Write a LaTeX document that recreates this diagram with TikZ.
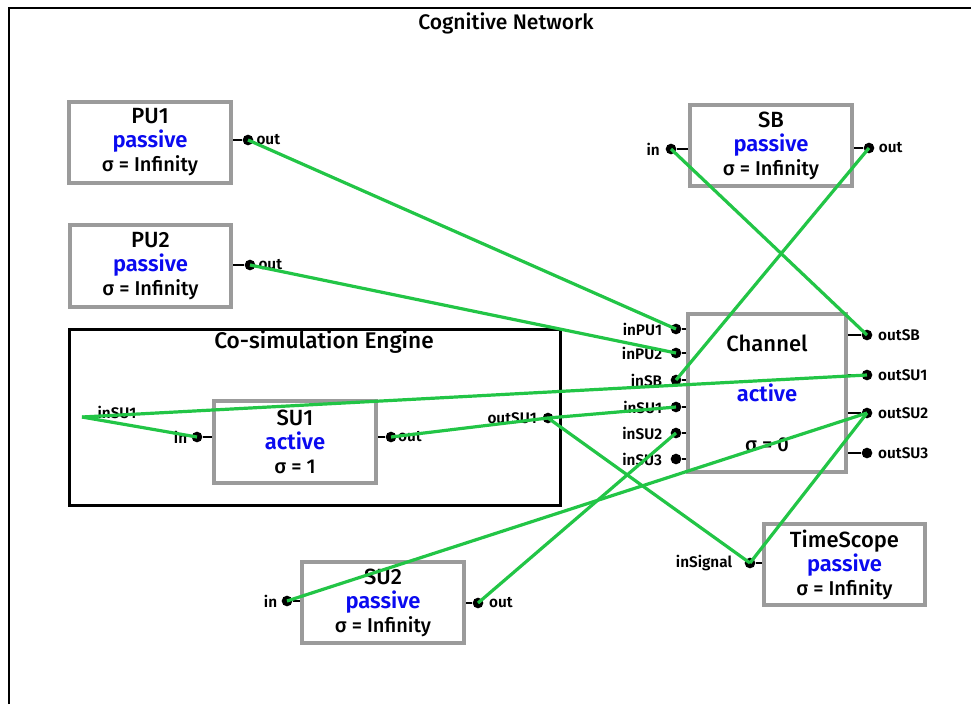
\documentclass[tikz,border=0pt]{standalone}
\usepackage{fontspec}
\setmainfont{Fira Sans Medium}[BoldFont={Fira Sans SemiBold}]
\usepackage{tikz}
\usetikzlibrary{positioning}
\definecolor{wiregreen}{RGB}{34,197,70}
\definecolor{boxgray}{RGB}{155,155,155}
\definecolor{stateblue}{RGB}{10,10,240}

\begin{document}
\begin{tikzpicture}[x=0.75pt, y=-0.75pt,
  block/.style={draw=boxgray, line width=3pt, fill=white, minimum width=121pt, minimum height=61pt, inner sep=0pt, align=center, font=\fontsize{16.5}{18}\selectfont},
  chan/.style={block, minimum width=118.5pt, minimum height=118.5pt},
  engine/.style={draw, line width=2.2pt, minimum width=368pt, minimum height=132pt},
  port/.style={circle, fill=black, inner sep=0pt, minimum size=8pt},
  plbl/.style={inner sep=1pt, font=\bfseries\fontsize{11.5}{12}\selectfont},
  stub/.style={line width=1.3pt},
  wire/.style={wiregreen, line width=2.4pt}
]
\useasboundingbox (0,0) rectangle (971,704);
\draw[line width=1.6pt] (9,704) -- (9,8) -- (971,8);
\node[font=\fontsize{15.8}{17}\selectfont] (title) at (506,23) {Cognitive Network};

\node[engine] (eng) at (315,417.5) {};
\node[font=\fontsize{17}{19}\selectfont] (engt) at (324,342) {Co-simulation Engine};

\node[block] (pu1) at (150,142.5) {PU1\\\textcolor{stateblue}{\bfseries passive}\\{\fontsize{15}{17}\selectfont σ = Infinity}};
\node[block] (pu2) at (150.5,266) {PU2\\\textcolor{stateblue}{\bfseries passive}\\{\fontsize{15}{17}\selectfont σ = Infinity}};
\node[block] (sb) at (771,145.5) {SB\\\textcolor{stateblue}{\bfseries passive}\\{\fontsize{15}{17}\selectfont σ = Infinity}};
\node[block] (su1) at (295,442) {SU1\\\textcolor{stateblue}{\bfseries active}\\{\fontsize{15}{17}\selectfont σ = 1}};
\node[block] (su2) at (383,602.5) {SU2\\\textcolor{stateblue}{\bfseries passive}\\{\fontsize{15}{17}\selectfont σ = Infinity}};
\node[block] (ts) at (844.5,564.5) {TimeScope\\\textcolor{stateblue}{\bfseries passive}\\{\fontsize{15}{17}\selectfont σ = Infinity}};
\node[chan] (ch) at (767,393) {Channel\\[20pt]\textcolor{stateblue}{\bfseries active}\\[19pt]{\fontsize{15}{17}\selectfont σ = 0}};

\node[port] (pu1o) at (248,140) {};
\node[plbl, right=1pt of pu1o] (pu1ol) {out};
\draw[stub] (pu1o) -- (pu1o -| pu1.east);
\node[port] (pu2o) at (250,265) {};
\node[plbl, right=1pt of pu2o] (pu2ol) {out};
\draw[stub] (pu2o) -- (pu2o -| pu2.east);
\node[port] (sbi) at (671,149) {};
\node[plbl, left=3pt of sbi] (sbil) {in};
\draw[stub] (sbi) -- (sbi -| sb.west);
\node[port] (sbo) at (869,148) {};
\node[plbl, right=2pt of sbo] (sbol) {out};
\draw[stub] (sbo) -- (sbo -| sb.east);
\node[port] (su1i) at (197,437) {};
\node[plbl, left=2pt of su1i] (su1il) {in};
\draw[stub] (su1i) -- (su1i -| su1.west);
\node[port] (su1o) at (391,437) {};
\node[plbl, right=0pt of su1o] (su1ol) {out};
\draw[stub] (su1o) -- (su1o -| su1.east);
\node[port] (su2i) at (287,601) {};
\node[plbl, left=2pt of su2i] (su2il) {in};
\draw[stub] (su2i) -- (su2i -| su2.west);
\node[port] (su2o) at (478,603) {};
\node[plbl, right=3pt of su2o] (su2ol) {out};
\draw[stub] (su2o) -- (su2o -| su2.east);
\node[port] (tsi) at (750,563) {};
\node[plbl, left=8pt of tsi] (tsil) {inSignal};
\draw[stub] (tsi) -- (tsi -| ts.west);

\coordinate (einsu1) at (82,417);
\node[plbl] (einsu1l) at (117,412) {inSU1};
\node[port] (eoutsu1) at (548,418) {};
\node[plbl, left=3pt of eoutsu1] (eoutsu1l) {outSU1};

\foreach \n/\y in {inPU1/329, inPU2/353, inSB/380, inSU1/407, inSU2/433, inSU3/459} {
  \node[port] (ch\n) at (676,\y) {};
  \node[plbl, left=5pt of ch\n] (lbl\n) {\n};
  \draw[stub] (ch\n) -- (ch\n -| ch.west);
}
\foreach \n/\y in {outSB/335, outSU1/375, outSU2/413, outSU3/453} {
  \node[port] (ch\n) at (867,\y) {};
  \node[plbl, right=3pt of ch\n] (lbl\n) {\n};
  \draw[stub] (ch\n) -- (ch\n -| ch.east);
}

\draw[wire] (pu1o.center) -- (chinPU1.center);
\draw[wire] (pu2o.center) -- (chinPU2.center);
\draw[wire] (sbi.center) -- (choutSB.center);
\draw[wire] (sbo.center) -- (chinSB.center);
\draw[wire] (einsu1) -- (choutSU1.center);
\draw[wire] (einsu1) -- (su1i.center);
\draw[wire] (su1o.center) -- (eoutsu1.center);
\draw[wire] (eoutsu1.center) -- (chinSU1.center);
\draw[wire] (eoutsu1.center) -- (tsi.center);
\draw[wire] (choutSU2.center) -- (su2i.center);
\draw[wire] (choutSU2.center) -- (tsi.center);
\draw[wire] (su2o.center) -- (chinSU2.center);
\end{tikzpicture}
\end{document}
